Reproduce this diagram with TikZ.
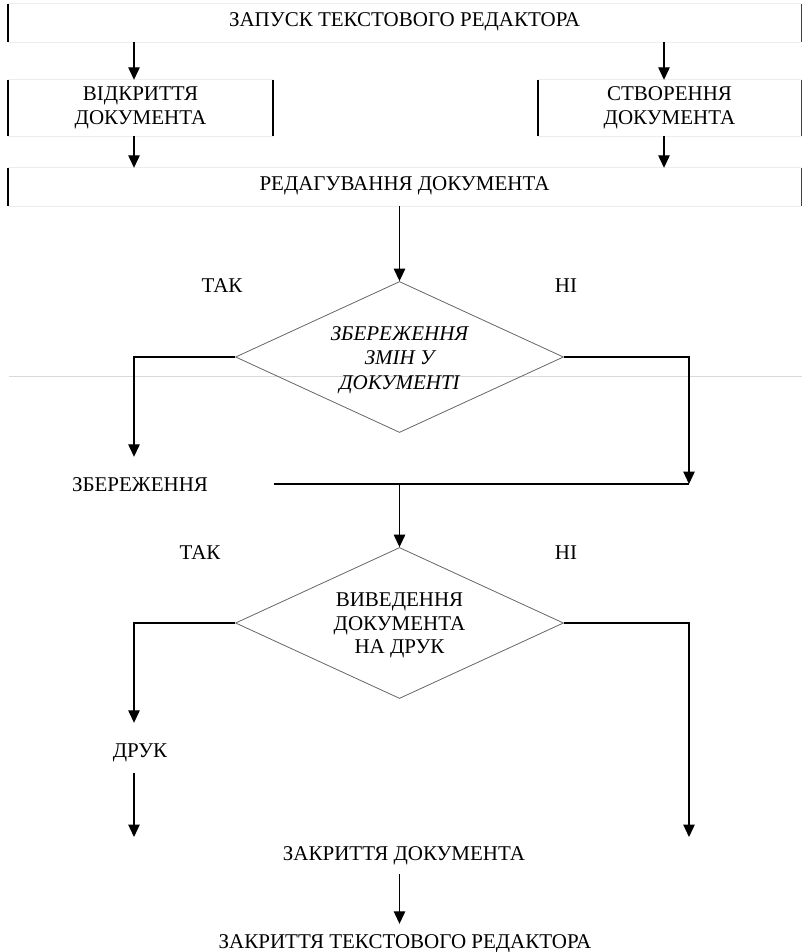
\documentclass[tikz,border=0pt]{standalone}
\usepackage{fontspec}
\setmainfont{Liberation Serif}
\usetikzlibrary{shapes.geometric,arrows.meta}

\begin{document}
\begin{tikzpicture}
    [
        x=1pt, y=-1pt, font=\fontsize{21}{23.5}\selectfont,
        box_style/.style={inner sep=0pt, minimum height=38pt, text height=14pt, text depth=7pt},
        box2_style/.style={inner sep=0pt, minimum height=56pt, align=center},
        bar_style/.style={draw=black, line width=2pt},
        edge_style/.style={draw=black!75, line width=1pt},
        rule_style/.style={draw=black!7, line width=1pt},
        cond_style/.style={diamond, draw=black!60, line width=0.8pt, minimum width=328pt, minimum height=151pt, inner sep=0pt, aspect=2.2, align=center},
        text_style/.style={inner sep=0pt, text height=14pt, text depth=0pt},
        line_style/.style={draw=black, line width=1.2pt},
        arr_style/.style={draw=black, line width=1.2pt, -{Triangle[length=12.5pt,width=11.5pt]}}
    ]
        \useasboundingbox (0,0) rectangle (802,952);

        \coordinate (colL) at (134,0);
        \coordinate (colC) at (664,0);
        \coordinate (colR) at (689,0);

        \node[box_style, minimum width=793pt] (start) at (404.5,23) {ЗАПУСК ТЕКСТОВОГО РЕДАКТОРА};
        \node[box2_style, minimum width=265pt] (open) at (140.5,108) {ВІДКРИТТЯ\\ДОКУМЕНТА};
        \node[box2_style, minimum width=263pt] (create) at (669.5,108) {СТВОРЕННЯ\\ДОКУМЕНТА};
        \node[box_style, minimum width=793pt] (edit) at (404.5,187) {РЕДАГУВАННЯ ДОКУМЕНТА};

        \draw[rule_style] (start.north west) -- (start.north east) (start.south west) -- (start.south east);
        \draw[rule_style] (open.north west) -- (open.north east) (open.south west) -- (open.south east);
        \draw[rule_style] (create.north west) -- (create.north east) (create.south west) -- (create.south east);
        \draw[rule_style] (edit.north west) -- (edit.north east) (edit.south west) -- (edit.south east);
        \draw[rule_style, draw=black!15] (9,376) -- (802,376);

        \draw[bar_style] (start.north west) -- (start.south west);
        \draw[edge_style] (start.north east) -- (start.south east);
        \draw[bar_style] (open.north west) -- (open.south west);
        \draw[bar_style] (open.north east) -- (open.south east);
        \draw[bar_style] (create.north west) -- (create.south west);
        \draw[edge_style] (create.north east) -- (create.south east);
        \draw[bar_style] (edit.north west) -- (edit.south west);
        \draw[edge_style] (edit.north east) -- (edit.south east);

        \draw[arr_style] (start.south -| colL) -- (open.north -| colL);
        \draw[arr_style] (start.south -| colC) -- (create.north -| colC);
        \draw[arr_style] (open.south -| colL) -- (edit.north -| colL);
        \draw[arr_style] (create.south -| colC) -- (edit.north -| colC);

        \node[cond_style, font=\fontsize{21}{24.5}\selectfont\itshape] (save_q) at (399.5,357) {\rule{0pt}{20pt}ЗБЕРЕЖЕННЯ\\ЗМІН У\\ДОКУМЕНТІ};
        \node[text_style] (yes1) at (222,285) {ТАК};
        \node[text_style] (no1) at (566,285) {НІ};
        \draw[arr_style] (edit.south -| save_q.north) -- (save_q.north);

        \node[text_style] (save) at (140,484) {ЗБЕРЕЖЕННЯ};
        \coordinate (merge_l) at (274,484);
        \coordinate (merge_r) at (689,484);
        \draw[arr_style, shorten >=20pt] (save_q.west) -| (save.north -| colL);
        \draw[arr_style] (save_q.east) -| (merge_r);
        \draw[line_style] (merge_l) -- (merge_r);

        \node[cond_style] (print_q) at (399.5,623) {\rule{0pt}{19pt}ВИВЕДЕННЯ\\ДОКУМЕНТА\\НА ДРУК};
        \node[text_style] (yes2) at (200,552) {ТАК};
        \node[text_style] (no2) at (566,552) {НІ};
        \draw[arr_style] (merge_l -| print_q.north) -- (print_q.north);

        \node[text_style] (print) at (140,750) {ДРУК};
        \coordinate (endL) at (134,837);
        \coordinate (endR) at (689,837);
        \draw[arr_style, shorten >=20pt] (print_q.west) -| (print.north -| colL);
        \draw[arr_style, shorten <=16pt] (print.south -| colL) -- (endL);
        \draw[arr_style] (print_q.east) -| (endR);

        \node[text_style] (close) at (404,853) {ЗАКРИТТЯ ДОКУМЕНТА};
        \node[text_style] (quit) at (405,941) {ЗАКРИТТЯ ТЕКСТОВОГО РЕДАКТОРА};
        \draw[arr_style, shorten <=14pt, shorten >=10pt] (close.south -| print_q.south) -- (quit.north -| print_q.south);
    \end{tikzpicture}
\end{document}
